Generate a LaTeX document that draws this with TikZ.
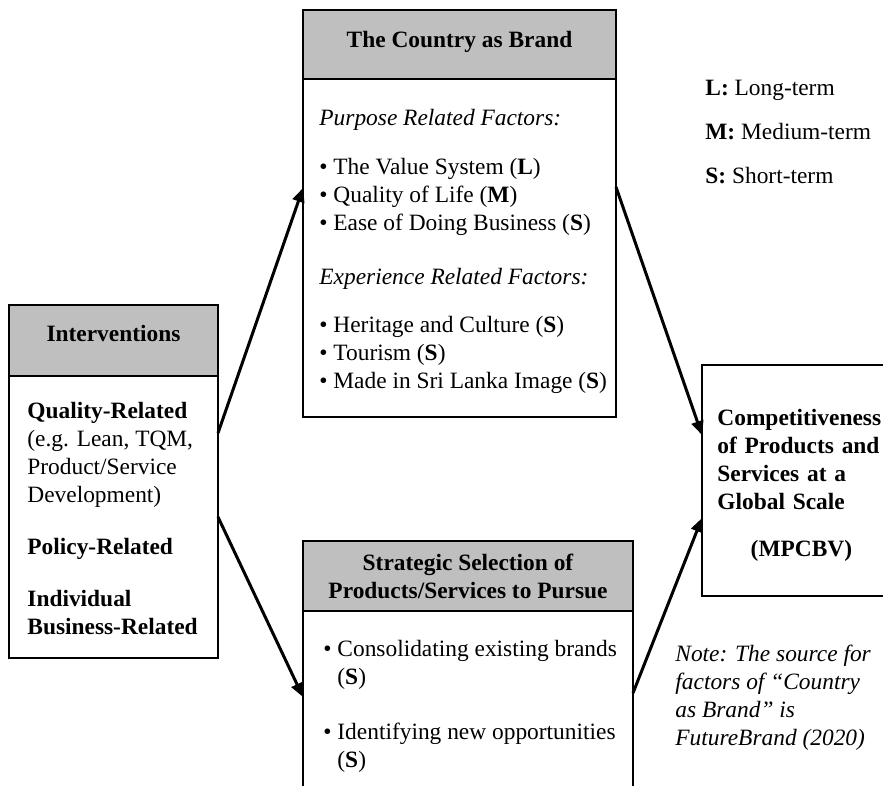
\documentclass[tikz,border=0pt]{standalone}
\usepackage{fontspec}
\setmainfont{Liberation Serif}
\usetikzlibrary{arrows.meta,positioning}
\definecolor{hdrgray}{HTML}{BFBFBF}
\newcommand{\txtsize}{\fontsize{11.7}{14}\selectfont}

\begin{document}
\begin{tikzpicture}[
  x=1pt, y=-1pt,
  >={Triangle[length=7pt,width=6pt]},
  hdr/.style={draw, line width=1.2pt, fill=hdrgray, font=\txtsize\bfseries, align=center,
              inner sep=0pt, outer sep=0pt, anchor=north west},
  bodybox/.style={draw, line width=1.2pt, fill=white, inner sep=0pt, outer sep=0pt},
  txt/.style={anchor=north west, align=left, inner sep=0pt, font=\txtsize},
  link/.style={->, line width=1.5pt}
]
\useasboundingbox (0,0) rectangle (441.5,393);
\clip (0,0) rectangle (441.5,393);

\node[hdr, minimum width=104.5pt, minimum height=35.5pt, text depth=7pt] (inthead) at (4.5,152.5) {Interventions};
\node[bodybox, minimum width=104.5pt, minimum height=141pt, below=0pt of inthead] (intbody) {};
\node[txt, below right=12.8pt and 9pt of intbody.north west] (inttxt)
     {\textbf{Quality-Related}\\(e.g. Lean, TQM,\\Product/Service\\Development)\\[12pt]
      \textbf{Policy-Related}\\[12pt]\textbf{Individual}\\\textbf{Business-Related}};

\node[hdr, minimum width=156.5pt, minimum height=34.5pt, text depth=5.5pt] (ctyhead) at (151.5,5) {The Country as Brand};
\node[bodybox, minimum width=156.5pt, minimum height=169pt, below=0pt of ctyhead] (ctybody) {};
\node[txt, below right=14.8pt and 8pt of ctybody.north west] (ctytxt)
     {\textit{Purpose Related Factors:}\\[10.5pt]
      \textbullet\ The Value System (\textbf{L})\\
      \textbullet\ Quality of Life (\textbf{M})\\
      \textbullet\ Ease of Doing Business (\textbf{S})\\[13pt]
      \textit{Experience Related Factors:}\\[10pt]
      \textbullet\ Heritage and Culture (\textbf{S})\\
      \textbullet\ Tourism (\textbf{S})\\
      \textbullet\ Made in Sri Lanka Image (\textbf{S})};

\node[hdr, minimum width=165pt, minimum height=35pt] (strathead) at (151.5,270.5)
     {Strategic Selection of\\Products/Services to Pursue};
\node[bodybox, minimum width=165pt, minimum height=100pt, below=0pt of strathead] (stratbody) {};
\node[txt, below right=14.3pt and 10pt of stratbody.north west] (strattxt)
     {\textbullet\ Consolidating existing brands\\\phantom{\textbullet\ }(\textbf{S})\\[13.5pt]
      \textbullet\ Identifying new opportunities\\\phantom{\textbullet\ }(\textbf{S})};

\node[bodybox, minimum width=92pt, minimum height=115.5pt, anchor=north west] (compbox) at (351,182.5) {};
\node[txt, text width=84pt, font=\txtsize\bfseries, below right=21.8pt and 7.5pt of compbox.north west] (comptxt)
     {Competitiveness\\of Products and\\Services at a\\Global Scale\\[9.5pt]\hfill(MPCBV)\hfill\null};

\node[txt] (legend) at (352.5,39.8)
     {\textbf{L:} Long-term\\[8pt]\textbf{M:} Medium-term\\[8pt]\textbf{S:} Short-term};
\node[txt, font=\txtsize\itshape] (note) at (337.5,322.3)
     {Note: The source for\\factors of “Country\\as Brand” is\\FutureBrand (2020)};

\draw[link] ([yshift=-28.5pt]intbody.north east) -- ([yshift=-54.5pt]ctybody.north west);
\draw[link] ([yshift=-70.5pt]intbody.north east) -- ([yshift=-43pt]stratbody.north west);
\draw[link] ([yshift=-54pt]ctybody.north east) -- ([yshift=-35pt]compbox.north west);
\draw[link] ([yshift=-41pt]stratbody.north east) -- ([yshift=-76.5pt]compbox.north west);
\end{tikzpicture}
\end{document}
